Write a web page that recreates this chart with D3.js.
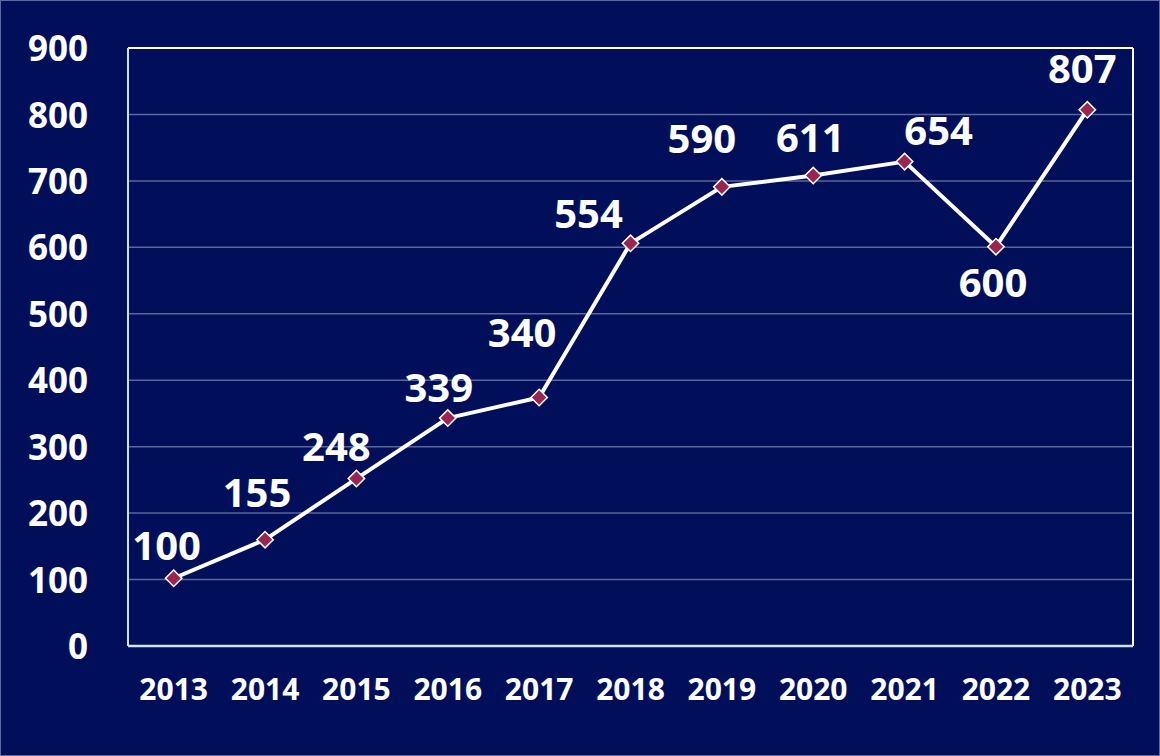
<!DOCTYPE html>
<html>
<head>
<meta charset="utf-8">
<script src="https://cdn.jsdelivr.net/npm/d3@7"></script>
<style>
  html, body { margin: 0; padding: 0; background: #010f5a; }
  svg { display: block; }
</style>
</head>
<body>
<svg id="mainsvg" width="1160" height="756"></svg>
<script>
// data
const years = ["2013", "2014", "2015", "2016", "2017", "2018", "2019", "2020", "2021", "2022", "2023"];
// plotted height of each point
const values = [102, 160, 252, 343, 374, 606, 691, 708, 729, 601, 807];
// number printed next to each point
const labels = ["100", "155", "248", "339", "340", "554", "590", "611", "654", "600", "807"];
const yTicks = [0, 100, 200, 300, 400, 500, 600, 700, 800, 900];

const svg = d3.select("#mainsvg");
const myWidth = +svg.attr("width");
const myHeight = +svg.attr("height");

const margin = { top: 48, right: 27, bottom: 110, left: 128 };
const innerWidth = myWidth - margin.left - margin.right;
const innerHeight = myHeight - margin.top - margin.bottom;

const font = "'Open Sans', 'Noto Sans', sans-serif";

// background + thin page border
svg.append("rect")
  .attr("x", 0.5).attr("y", 0.5)
  .attr("width", myWidth - 1).attr("height", myHeight - 1)
  .attr("fill", "#010f5a")
  .attr("stroke", "#5e6a9c")
  .attr("stroke-width", 1);

const g = svg.append("g")
  .attr("transform", `translate(${margin.left},${margin.top})`);

const x = d3.scaleBand().domain(years).range([0, innerWidth]);
const y = d3.scaleLinear().domain([0, 900]).range([innerHeight, 0]);

// gridlines
g.append("g")
  .selectAll("line")
  .data(yTicks.filter(d => d > 0 && d < 900))
  .join("line")
  .attr("x1", 0).attr("x2", innerWidth)
  .attr("y1", d => y(d)).attr("y2", d => y(d))
  .attr("stroke", "#5a6799")
  .attr("stroke-width", 1.5);

// frame: top/right white, left/bottom light blue
g.append("line").attr("x1", 0).attr("x2", innerWidth).attr("y1", 0).attr("y2", 0)
  .attr("stroke", "#ffffff").attr("stroke-width", 2);
g.append("line").attr("x1", innerWidth).attr("x2", innerWidth).attr("y1", 0).attr("y2", innerHeight)
  .attr("stroke", "#ffffff").attr("stroke-width", 2);
g.append("line").attr("x1", 0).attr("x2", 0).attr("y1", 0).attr("y2", innerHeight)
  .attr("stroke", "#c9e4f7").attr("stroke-width", 2);
g.append("line").attr("x1", 0).attr("x2", innerWidth).attr("y1", innerHeight).attr("y2", innerHeight)
  .attr("stroke", "#c9e4f7").attr("stroke-width", 2.5);

// y axis labels
const yAxis = g.append("g")
  .call(d3.axisLeft(y).tickValues(yTicks).tickSize(0).tickPadding(40))
  .attr("font-family", font)
  .attr("font-size", 35)
  .attr("font-weight", 700);
yAxis.select(".domain").remove();
yAxis.selectAll("text").attr("fill", "#ffffff").attr("dy", "0.36em");

// x axis labels
const xAxis = g.append("g")
  .attr("transform", `translate(0,${innerHeight})`)
  .call(d3.axisBottom(x).tickSize(0).tickPadding(33))
  .attr("font-family", font)
  .attr("font-size", 30)
  .attr("font-weight", 700);
xAxis.select(".domain").remove();
xAxis.selectAll("text").attr("fill", "#ffffff");

const cx = (d, i) => x(years[i]) + x.bandwidth() / 2;

// line
const line = d3.line()
  .x((d, i) => cx(d, i))
  .y(d => y(d));

g.append("path")
  .datum(values)
  .attr("d", line)
  .attr("fill", "none")
  .attr("stroke", "#ffffff")
  .attr("stroke-width", 4)
  .attr("stroke-linejoin", "round");

// diamond markers
const diamond = d3.symbol().type(d3.symbolSquare).size(135);
g.append("g")
  .selectAll("path")
  .data(values)
  .join("path")
  .attr("d", diamond)
  .attr("transform", (d, i) => `translate(${cx(d, i)},${y(d)}) rotate(45)`)
  .attr("fill", "#9a2550")
  .attr("stroke", "#ffffff")
  .attr("stroke-width", 1.5);

// value labels, nudged by hand like in the original
const labelNudge = [
  [-7, -18], [-8, -33], [-20, -18], [-9, -16], [-17, -50], [-42, -15],
  [-20, -34], [-3, -24], [34, -17], [-3, 50], [-5, -27]
];
g.append("g")
  .selectAll("text")
  .data(values)
  .join("text")
  .attr("x", (d, i) => cx(d, i) + labelNudge[i][0])
  .attr("y", (d, i) => y(d) + labelNudge[i][1])
  .attr("text-anchor", "middle")
  .attr("font-family", font)
  .attr("font-size", 40)
  .attr("font-weight", 700)
  .attr("fill", "#ffffff")
  .text((d, i) => labels[i]);
</script>
</body>
</html>
